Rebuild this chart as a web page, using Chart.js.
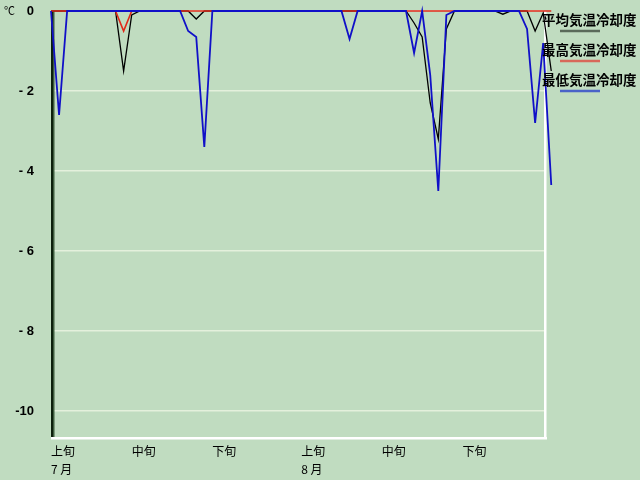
<!DOCTYPE html>
<html>
<head>
<meta charset="utf-8">
<script src="https://cdn.jsdelivr.net/npm/chart.js@4/dist/chart.umd.min.js"></script>
<style>
    html, body { margin: 0; padding: 0; background: #c0dcc0; }
    #wrap { width: 640px; height: 480px; }
</style>
</head>
<body>
<div id="wrap"><canvas id="chart" width="640" height="480"></canvas></div>
<script>
// Daily cooling degree values, July 1 .. Sep 1 (index 0..62)
const meanCooling = [
    0, 0, 0, 0, 0, 0, 0, 0, 0, -1.5,
    -0.1, 0, 0, 0, 0, 0, 0, 0, -0.2, 0,
    0, 0, 0, 0, 0, 0, 0, 0, 0, 0,
    0, 0, 0, 0, 0, 0, 0, 0, 0, 0,
    0, 0, 0, 0, 0, -0.3, -0.65, -2.3, -3.2, -0.45,
    0, 0, 0, 0, 0, 0, -0.08, 0, 0, 0,
    -0.5, -0.05, -1.5
];
const maxCooling = [
    0, 0, 0, 0, 0, 0, 0, 0, 0, -0.5,
    0, 0, 0, 0, 0, 0, 0, 0, 0, 0,
    0, 0, 0, 0, 0, 0, 0, 0, 0, 0,
    0, 0, 0, 0, 0, 0, 0, 0, 0, 0,
    0, 0, 0, 0, 0, 0, 0, 0, 0, 0,
    0, 0, 0, 0, 0, 0, 0, 0, 0, 0,
    0, 0, 0
];
const minCooling = [
    0, -2.6, 0, 0, 0, 0, 0, 0, 0, 0,
    0, 0, 0, 0, 0, 0, 0, -0.5, -0.65, -3.4,
    0, 0, 0, 0, 0, 0, 0, 0, 0, 0,
    0, 0, 0, 0, 0, 0, 0, -0.7, 0, 0,
    0, 0, 0, 0, 0, -1.05, 0, -1.6, -4.5, -0.1,
    0, 0, 0, 0, 0, 0, 0, 0, 0, -0.45,
    -2.8, -0.8, -4.35
];

const seriesNames = ['平均気温冷却度', '最高気温冷却度', '最低気温冷却度'];
const seriesColors = ['#000000', '#e02818', '#1010c8'];
const legendColors = ['#5a6a5a', '#d8685a', '#4a62c8'];

// x ticks: 上旬/中旬/下旬 of July and August (day index)
const tickDays = [0, 10, 20, 31, 41, 51];
const tickLabels = [['上旬', '7 月'], '中旬', '下旬', ['上旬', '8 月'], '中旬', '下旬'];
const yTicks = [0, -2, -4, -6, -8, -10];
const yTickLabels = ['0', '- 2', '- 4', '- 6', '- 8', '-10'];

function toPoints(values) {
    return values.map((v, i) => ({ x: i, y: v }));
}

// frame, unit label and legend
const decorPlugin = {
    id: 'decor',
    beforeDatasetsDraw(chart) {
        const { ctx, chartArea: a } = chart;
        ctx.save();
        // left dark edge
        ctx.fillStyle = '#0c200c';
        ctx.fillRect(a.left, a.top, 2, a.bottom - a.top);
        ctx.fillStyle = '#3c5a3c';
        ctx.fillRect(a.left + 2, a.top, 1.5, a.bottom - a.top);
        // bottom and right white edge
        ctx.fillStyle = '#ffffff';
        ctx.fillRect(a.left, a.bottom, a.right - a.left + 3, 2.5);
        ctx.fillRect(a.right, a.top, 2.5, a.bottom - a.top + 2);
        ctx.restore();
    },
    afterDraw(chart) {
        const { ctx } = chart;
        ctx.save();
        ctx.fillStyle = '#000';
        ctx.font = '11px "Noto Sans CJK JP"';
        ctx.textBaseline = 'middle';
        ctx.fillText('℃', 4, 11);

        ctx.font = 'bold 13.5px "Noto Sans CJK JP"';
        seriesNames.forEach((name, i) => {
            const y = 20 + i * 30;
            ctx.fillStyle = '#000';
            ctx.fillText(name, 542, y);
            ctx.strokeStyle = legendColors[i];
            ctx.lineWidth = 2.5;
            ctx.beginPath();
            ctx.moveTo(560, y + 11);
            ctx.lineTo(600, y + 11);
            ctx.stroke();
        });
        ctx.restore();
    }
};

const ctx = document.getElementById('chart').getContext('2d');
new Chart(ctx, {
    type: 'line',
    data: {
        datasets: [
            {
                label: seriesNames[0],
                data: toPoints(meanCooling),
                borderColor: seriesColors[0],
                borderWidth: 1.3,
                order: 3
            },
            {
                label: seriesNames[1],
                data: toPoints(maxCooling),
                borderColor: seriesColors[1],
                borderWidth: 1.6,
                order: 2
            },
            {
                label: seriesNames[2],
                data: toPoints(minCooling),
                borderColor: seriesColors[2],
                borderWidth: 1.8,
                order: 1
            }
        ]
    },
    options: {
        responsive: false,
        animation: false,
        devicePixelRatio: 1,
        clip: false,
        elements: {
            point: { radius: 0 },
            line: { tension: 0, fill: false }
        },
        layout: {
            padding: { top: 11, right: 96, left: 0, bottom: 0 }
        },
        plugins: {
            legend: { display: false },
            tooltip: { enabled: false }
        },
        scales: {
            x: {
                type: 'linear',
                min: 0,
                max: 61.1,
                afterBuildTicks: function(scale) {
                    scale.ticks = tickDays.map(v => ({ value: v }));
                },
                afterFit: function(scale) {
                    scale.height = 43;
                    scale.paddingLeft = 0;
                    scale.paddingRight = 0;
                },
                grid: { display: false, drawTicks: false },
                border: { display: false },
                ticks: {
                    align: 'start',
                    autoSkip: false,
                    maxRotation: 0,
                    padding: 5,
                    color: '#000',
                    font: { family: '"Noto Sans CJK JP"', size: 12, lineHeight: 1.5 },
                    callback: function(value) {
                        const i = tickDays.indexOf(value);
                        return i >= 0 ? tickLabels[i] : '';
                    }
                }
            },
            y: {
                min: -10.65,
                max: 0,
                afterBuildTicks: function(scale) {
                    scale.ticks = yTicks.map(v => ({ value: v }));
                },
                afterFit: function(scale) {
                    scale.width = 51;
                    scale.paddingTop = 0;
                    scale.paddingBottom = 0;
                },
                grid: {
                    color: '#e4f0dc',
                    lineWidth: 1.5,
                    drawTicks: false
                },
                border: { display: false },
                ticks: {
                    padding: 17,
                    color: '#000',
                    font: { family: '"Liberation Sans"', size: 13, weight: 'bold' },
                    callback: function(value) {
                        const i = yTicks.indexOf(value);
                        return i >= 0 ? yTickLabels[i] : '';
                    }
                }
            }
        }
    },
    plugins: [decorPlugin]
});
</script>
</body>
</html>
